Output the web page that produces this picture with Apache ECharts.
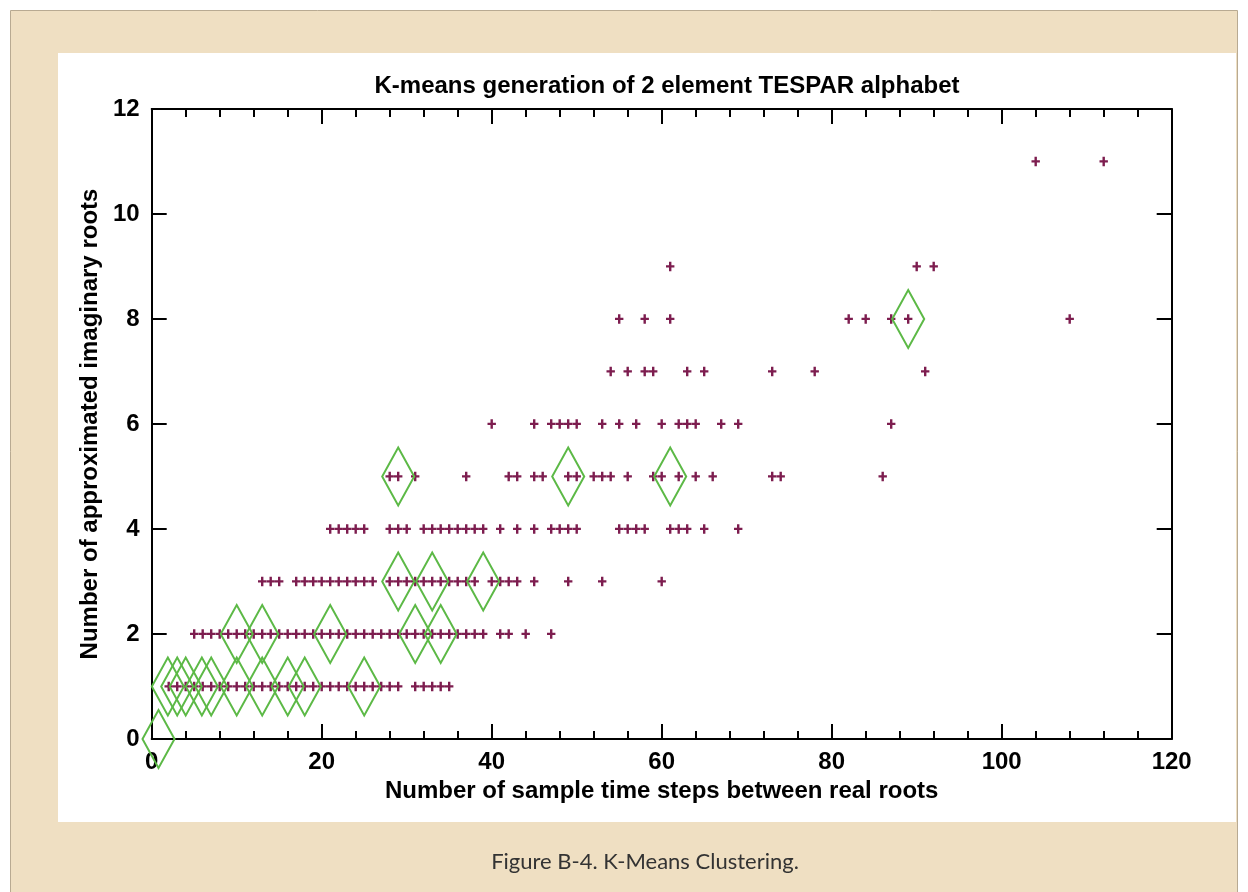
<!DOCTYPE html>
<html>
<head>
<meta charset="utf-8">
<script src="https://cdn.jsdelivr.net/npm/echarts@6/dist/echarts.min.js"></script>
<style>
html,body{margin:0;padding:0;background:#ffffff;}
#chart{width:1248px;height:892px;}
</style>
</head>
<body>
<div id="chart"></div>
<script>
// ---- data ----
const titleText = 'K-means generation of 2 element TESPAR alphabet';
const xAxisTitle = 'Number of sample time steps between real roots';
const yAxisTitle = 'Number of approximated imaginary roots';
const captionText = 'Figure B-4. K-Means Clustering.';

// data points (plus markers), grouped by y value
const row1X = [2,3,4,5,6,7,8,9,10,11,12,13,14,15,16,17,18,19,20,21,22,23,24,25,26,27,28,29,31,32,33,34,35];
const row2X = [5,6,7,8,9,10,11,12,13,14,15,16,17,18,19,20,21,22,23,24,25,26,27,28,29,30,31,32,33,34,35,36,37,38,39,41,42,44,47];
const row3X = [13,14,15,17,18,19,20,21,22,23,24,25,26,28,29,30,31,32,33,34,35,36,37,38,40,41,42,43,45,49,53,60];
const row4X = [21,22,23,24,25,28,29,30,32,33,34,35,36,37,38,39,41,43,45,47,48,49,50,55,56,57,58,61,62,63,65,69];
const row5X = [28,29,31,37,42,43,45,46,49,50,52,53,54,56,59,60,62,64,66,73,74,86];
const row6X = [40,45,47,48,49,50,53,55,57,60,62,63,64,67,69,87];
const row7X = [54,56,58,59,63,65,73,78,91];
const row8X = [55,58,61,82,84,87,89,108];
const row9X = [61,90,92];
const row11X = [104,112];
const rowYs = [1,2,3,4,5,6,7,8,9,11];

// cluster centres (diamond markers)
const centroidX = [0.8,1.9,3.0,4.0,5.9,7.0,10,13,16,18,25,10,13,21,31,34,29,33,39,29,49,61,89];
const centroidY = [0,1,1,1,1,1,1,1,1,1,1,2,2,2,2,2,3,3,3,5,5,5,8];

const xTicks = [0,20,40,60,80,100,120];
const yTicks = [0,2,4,6,8,10,12];

// ---- build ----
const rows = [row1X,row2X,row3X,row4X,row5X,row6X,row7X,row8X,row9X,row11X];
const points = [];
rows.forEach((xs, i) => xs.forEach(x => points.push([x, rowYs[i]])));
const centroids = centroidX.map((x, i) => [x, centroidY[i]]);

const font = "'Liberation Sans', Arial, Helvetica, sans-serif";
const axisLine = {show:true, onZero:false, lineStyle:{color:'#000', width:2}};
const tickStyle = {color:'#000', width:2};

const chart = echarts.init(document.getElementById('chart'), null, {renderer:'canvas'});
chart.setOption({
  backgroundColor:'#ffffff',
  animation:false,
  graphic:[
    {type:'rect', z:-10, shape:{x:10.5, y:10.5, width:1227, height:890}, style:{fill:'#efdfc2', stroke:'#b8aa92', lineWidth:1}},
    {type:'rect', z:-9, shape:{x:58, y:53, width:1178, height:769}, style:{fill:'#ffffff'}},
    {type:'text', z:5, x:645, y:862, style:{text:captionText, font:"400 22px 'Lato', 'Open Sans', sans-serif", fill:'#333333', textAlign:'center', textVerticalAlign:'middle'}}
  ],
  title:{
    text:titleText, left:662, top:69, textAlign:'center',
    textStyle:{fontFamily:font, fontWeight:'bold', fontSize:24, color:'#000'}
  },
  grid:{left:151.7, right:76.3, top:109, bottom:153, containLabel:false},
  xAxis:[
    {type:'value', min:0, max:120, interval:20, position:'bottom',
     axisLine:axisLine,
     axisTick:{show:true, inside:true, length:15, lineStyle:tickStyle},
     minorTick:{show:true, splitNumber:5, length:8, lineStyle:{color:'#000', width:2}},
     splitLine:{show:false},
     axisLabel:{show:true, margin:11, fontFamily:font, fontWeight:'bold', fontSize:24, color:'#000',
       formatter:v => xTicks.indexOf(v) >= 0 ? String(v) : ''},
     name:xAxisTitle, nameLocation:'middle', nameGap:40,
     nameTextStyle:{fontFamily:font, fontWeight:'bold', fontSize:24, color:'#000'}},
    {type:'value', min:0, max:120, interval:20, position:'top',
     axisLine:axisLine,
     axisTick:{show:true, inside:true, length:15, lineStyle:tickStyle},
     minorTick:{show:true, splitNumber:5, length:8, lineStyle:{color:'#000', width:2}},
     splitLine:{show:false}, axisLabel:{show:false}}
  ],
  yAxis:[
    {type:'value', min:0, max:12, interval:2, position:'left',
     axisLine:axisLine,
     axisTick:{show:true, inside:true, length:15, lineStyle:tickStyle},
     splitLine:{show:false},
     axisLabel:{show:true, margin:12, fontFamily:font, fontWeight:'bold', fontSize:24, color:'#000',
       formatter:v => yTicks.indexOf(v) >= 0 ? String(v) : ''},
     name:yAxisTitle, nameLocation:'middle', nameGap:48, nameRotate:90,
     nameTextStyle:{fontFamily:font, fontWeight:'bold', fontSize:24, color:'#000'}},
    {type:'value', min:0, max:12, interval:2, position:'right',
     axisLine:axisLine,
     axisTick:{show:true, inside:true, length:15, lineStyle:tickStyle},
     splitLine:{show:false}, axisLabel:{show:false}}
  ],
  series:[
    {type:'scatter', name:'data', xAxisIndex:0, yAxisIndex:0, data:points,
     symbol:'path://M3,0 H5.4 V3.5 H8.4 V5.7 H5.4 V9.5 H3 V5.7 H0 V3.5 H3 Z', symbolSize:[8.4,9.5],
     itemStyle:{color:'#7d1d4f', opacity:1}, z:2},
    {type:'scatter', name:'centroids', xAxisIndex:0, yAxisIndex:0, data:centroids,
     symbol:'path://M16,0 L32,29 L16,58 L0,29 Z', symbolSize:[32,58],
     itemStyle:{color:'rgba(0,0,0,0)', borderColor:'#5cb946', borderWidth:2.2, opacity:1}, z:3}
  ]
});
</script>
</body>
</html>
